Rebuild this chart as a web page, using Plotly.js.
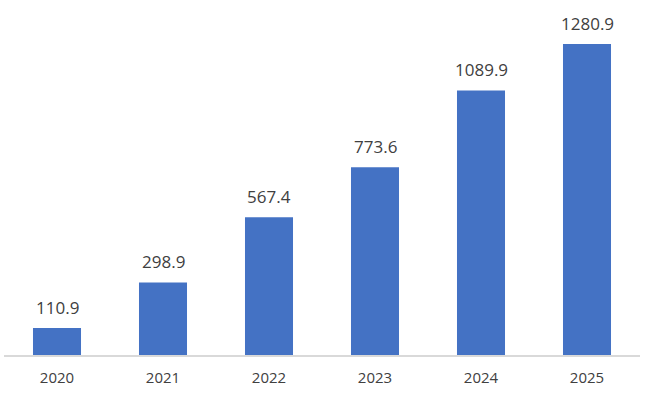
<!DOCTYPE html>
<html><head><meta charset="utf-8">
<script src="https://cdn.plot.ly/plotly-3.0.1.min.js"></script>
<style>html,body{margin:0;padding:0;background:#fff}#chart{width:655px;height:397px}</style>
</head><body><div id="chart"></div>
<script>
const years = ['2020','2021','2022','2023','2024','2025'];
const values = [110.9, 298.9, 567.4, 773.6, 1089.9, 1280.9];
const labels = ['110.9','298.9','567.4','773.6','1089.9','1280.9'];

const font = 'Open Sans, Noto Sans, sans-serif';
const annotations = years.map((yr, i) => ({
  x: i, y: values[i], xref: 'x', yref: 'y',
  text: labels[i], showarrow: false,
  yanchor: 'bottom', yshift: 7,
  font: {family: font, size: 17, color: '#404040'}
}));

Plotly.newPlot('chart', [{
  type: 'bar',
  x: years,
  y: values,
  marker: {color: '#4472C4'},
  hoverinfo: 'skip'
}], {
  width: 655, height: 397,
  margin: {l: 4, r: 15, t: 10, b: 42},
  paper_bgcolor: '#fff', plot_bgcolor: '#fff',
  bargap: 0.547,
  showlegend: false,
  annotations: annotations,
  xaxis: {
    type: 'category',
    range: [-0.5, 5.5],
    showline: true, linecolor: '#D9D9D9', linewidth: 1.5,
    ticks: '', showgrid: false,
    ticklabelstandoff: 8,
    tickfont: {family: font, size: 15, color: '#404040'}
  },
  yaxis: {
    range: [0, 1421],
    visible: false, showgrid: false, zeroline: false
  }
}, {displayModeBar: false, staticPlot: true});
</script></body></html>
